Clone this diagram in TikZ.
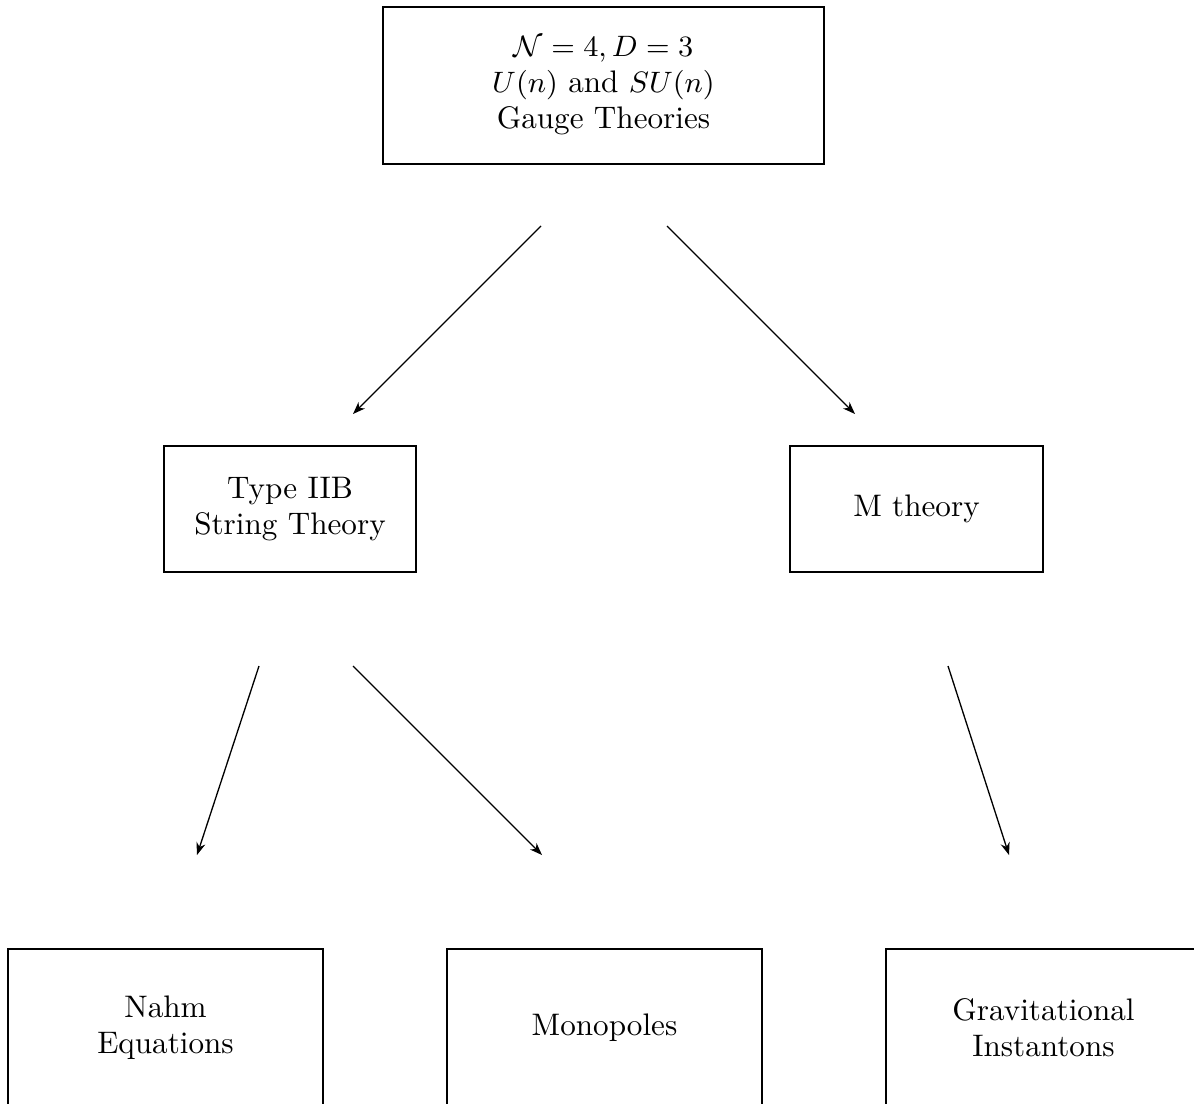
\documentclass[tikz,border=0pt]{standalone}
\usetikzlibrary{arrows.meta}
\begin{document}
\begin{tikzpicture}[x=0.305pt,y=-0.305pt,
  box/.style={draw,line width=0.45pt,rectangle,inner sep=0pt,align=center,font=\fontsize{9.5}{11}\selectfont},
  arr/.style={line width=0.4pt,-{Stealth[length=3.8pt,width=2.8pt]}}]
\useasboundingbox (0,0) rectangle (1194,1103);
\clip (0,0) rectangle (1194,1103);
\node[box,minimum width=441*0.305pt,minimum height=157*0.305pt] (top) at (603.5,85.5)
  {$\mathcal{N}=4, D=3$\\$U(n)$ and $SU(n)$\\Gauge Theories};
\node[box,minimum width=252*0.305pt,minimum height=126*0.305pt] (iib) at (290,509)
  {Type IIB\\String Theory};
\node[box,minimum width=253*0.305pt,minimum height=126*0.305pt] (m) at (916.5,509)
  {M theory};
\node[box,minimum width=315*0.305pt,minimum height=158*0.305pt] (nahm) at (165.5,1028)
  {Nahm\\Equations};
\node[box,minimum width=315*0.305pt,minimum height=158*0.305pt] (mono) at (604.5,1028)
  {Monopoles};
\node[box,minimum width=315*0.305pt,minimum height=158*0.305pt] (grav) at (1043.5,1028)
  {Gravitational\\Instantons};
\coordinate (a1s) at (541,226); \coordinate (a1e) at (353,414);
\coordinate (a2s) at (667,226); \coordinate (a2e) at (855,414);
\coordinate (a3s) at (259,666); \coordinate (a3e) at (197,855);
\coordinate (a4s) at (353,666); \coordinate (a4e) at (542,855);
\coordinate (a5s) at (948,666); \coordinate (a5e) at (1009,855);
\draw[arr] (a1s) -- (a1e);
\draw[arr] (a2s) -- (a2e);
\draw[arr] (a3s) -- (a3e);
\draw[arr] (a4s) -- (a4e);
\draw[arr] (a5s) -- (a5e);
\end{tikzpicture}
\end{document}
